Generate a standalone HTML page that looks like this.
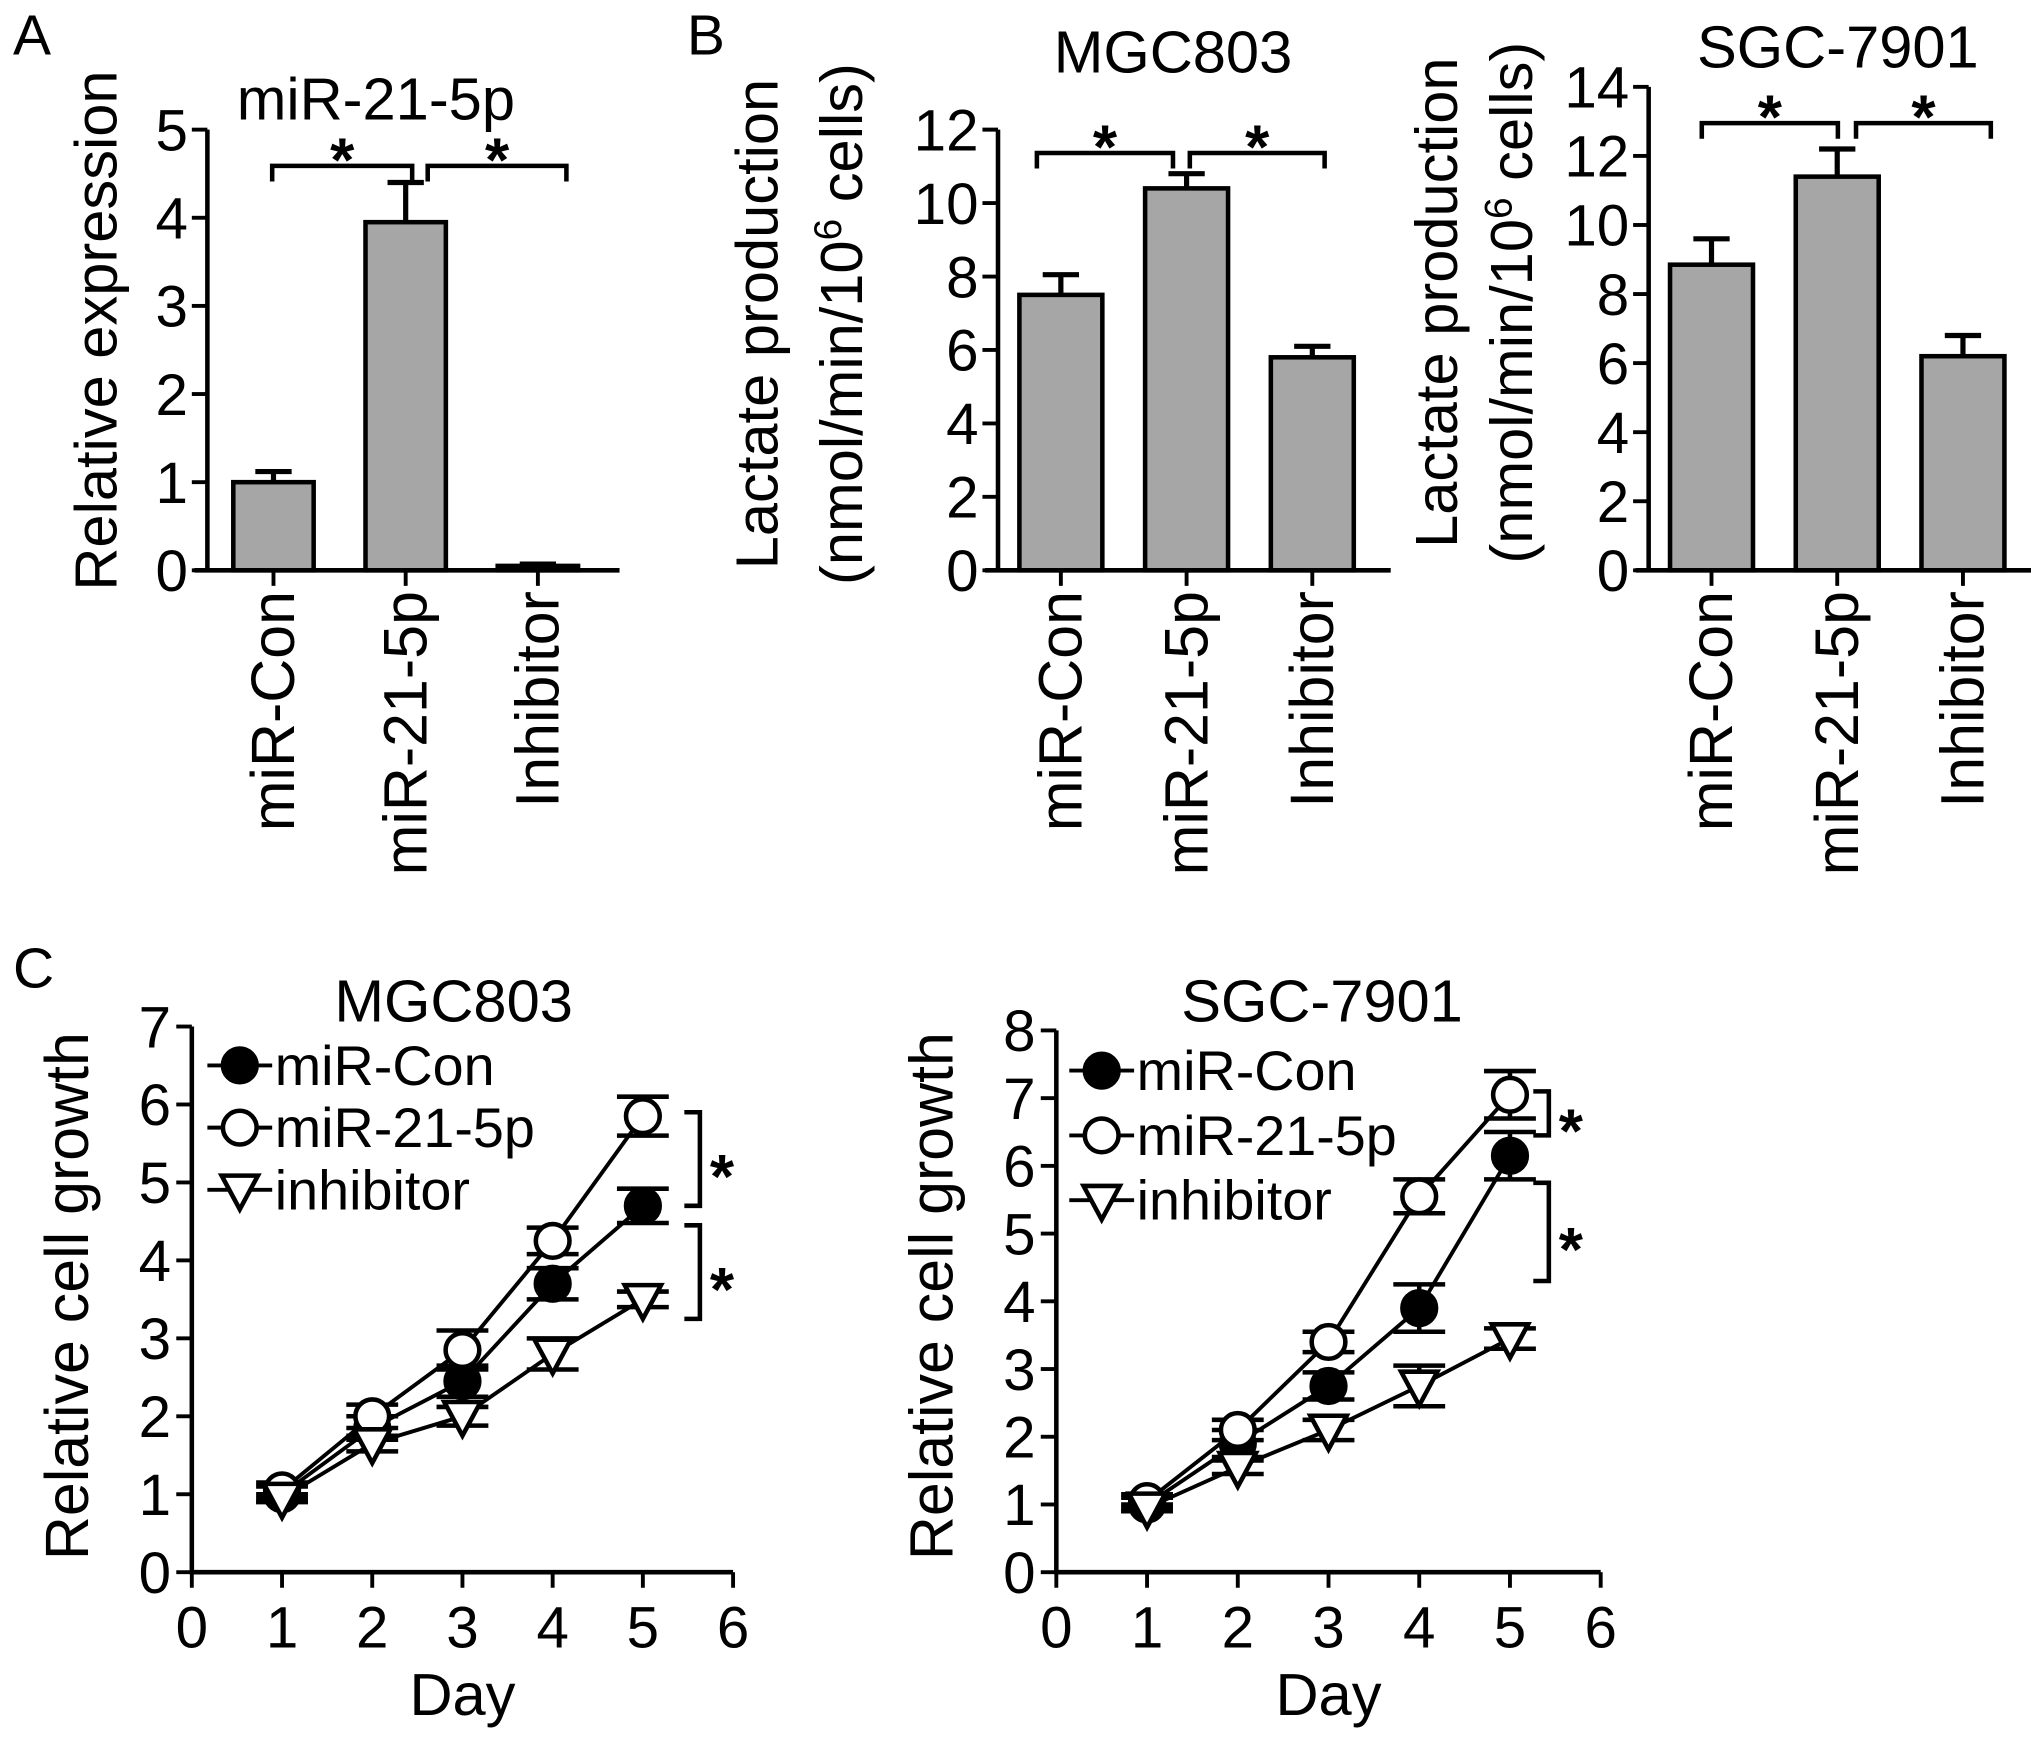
<!DOCTYPE html>
<html><head><meta charset="utf-8">
<style>
html,body{margin:0;padding:0;background:#fff;}
svg{display:block;}
text{font-family:"Liberation Sans",Arial,sans-serif;fill:#000;}
</style></head>
<body>
<svg id="fig" width="2031" height="1742" viewBox="0 0 1567 1344" xmlns="http://www.w3.org/2000/svg">
<text x="10" y="42" font-size="44">A</text>
<text x="530" y="42" font-size="44">B</text>
<text x="10" y="762" font-size="44">C</text>
</svg>
<script>
// ---- data ----
const barCategories = ["miR-Con","miR-21-5p","Inhibitor"];
const aValues = [1.0, 3.95, 0.05];
const aErrors = [0.12, 0.45, 0.02];
const bMgcValues = [7.5, 10.4, 5.8];
const bMgcErrors = [0.55, 0.4, 0.3];
const bSgcValues = [8.85, 11.4, 6.2];
const bSgcErrors = [0.75, 0.8, 0.6];
const aTicks = [0,1,2,3,4,5];
const bMgcTicks = [0,2,4,6,8,10,12];
const bSgcTicks = [0,2,4,6,8,10,12,14];

const days = [1,2,3,4,5];
const dayTicks = [0,1,2,3,4,5,6];
const seriesNames = ["miR-Con","miR-21-5p","inhibitor"];
const mgcCon = [1.0, 1.85, 2.45, 3.7, 4.7];
const mgcConErr = [0.1, 0.15, 0.2, 0.2, 0.22];
const mgcMir = [1.05, 2.0, 2.85, 4.25, 5.85];
const mgcMirErr = [0.1, 0.15, 0.25, 0.17, 0.25];
const mgcInh = [0.95, 1.65, 2.0, 2.8, 3.5];
const mgcInhErr = [0.05, 0.1, 0.12, 0.2, 0.1];
const mgcGrowthTicks = [0,1,2,3,4,5,6,7];
const sgcCon = [1.0, 1.9, 2.75, 3.9, 6.15];
const sgcConErr = [0.1, 0.2, 0.2, 0.35, 0.35];
const sgcMir = [1.05, 2.1, 3.4, 5.55, 7.05];
const sgcMirErr = [0.1, 0.15, 0.15, 0.25, 0.35];
const sgcInh = [0.95, 1.55, 2.1, 2.75, 3.45];
const sgcInhErr = [0.05, 0.1, 0.15, 0.3, 0.15];
const sgcGrowthTicks = [0,1,2,3,4,5,6,7,8];

const NS="http://www.w3.org/2000/svg";
const svg=document.getElementById('fig');
function el(tag,attrs,parent){const e=document.createElementNS(NS,tag);for(const k in attrs)e.setAttribute(k,attrs[k]);(parent||svg).appendChild(e);return e;}
function txt(s,attrs,parent){const t=el('text',attrs,parent);t.textContent=s;return t;}

function barChart(cfg){
  const g=el('g',{});
  
  
  const y=v=>cfg.y0-(v-0)/(cfg.ymax)*(cfg.y0-cfg.ytop);
  const xc=i=>cfg.xs+cfg.step*(i+0.5);
  const t=txt(cfg.title,{x:cfg.titleX,y:cfg.titleY,'font-size':46,'text-anchor':'middle'},g);
  
  
  cfg.ylabel.forEach((lab,k)=>{
    const yl=el('text',{transform:`translate(${cfg.ylabX[k]},${(cfg.y0+cfg.ytop)/2+ (cfg.ylabDy||0)}) rotate(-90)`,'font-size':cfg.ylabFs||46,'text-anchor':'middle'},g);
    yl.innerHTML=lab;
    
    
  });
  cfg.values.forEach((v,i)=>{
    const b=el('rect',{x:xc(i)-cfg.bw/2,y:y(v),width:cfg.bw,height:cfg.y0-y(v),fill:'#a6a6a6',stroke:'#000','stroke-width':3.5},g);
    
    
    const e=cfg.errors[i];
    const eb=el('path',{d:`M${xc(i)},${y(v)} V${y(v+e)} M${xc(i)-14},${y(v+e)} H${xc(i)+14}`,stroke:'#000','stroke-width':4,fill:'none'},g);
    
    
    const lab=txt(barCategories[i],{transform:`translate(${xc(i)+16},${cfg.y0+16}) rotate(-90)`,'font-size':47,'text-anchor':'end'},g);
    
    
    el('line',{x1:xc(i),x2:xc(i),y1:cfg.y0,y2:cfg.y0+12,stroke:'#000','stroke-width':3},g);
  });
  const ax=el('path',{d:`M${cfg.xs},${cfg.ytop} V${cfg.y0} M${cfg.xs-10},${cfg.y0} H${cfg.xs+cfg.step*3+12}`,stroke:'#000','stroke-width':3.5,fill:'none'},g);
  
  
  cfg.ticks.forEach(v=>{
    el('line',{x1:cfg.xs-12,x2:cfg.xs,y1:y(v),y2:y(v),stroke:'#000','stroke-width':3},g);
    const tl=txt(String(v),{x:cfg.xs-15,y:y(v)+16,'font-size':45,'text-anchor':'end'},g);
    
    
  });
  cfg.brackets.forEach(br=>{
    const p=el('path',{d:`M${br[0]},${br[2]+12} V${br[2]} H${br[1]} V${br[2]+12}`,stroke:'#000','stroke-width':3.5,fill:'none'},g);
    
    
    const s=txt('*',{x:(br[0]+br[1])/2,y:br[2]+12,'font-size':48,'font-weight':'bold','text-anchor':'middle'},g);
    
    
  });
}

barChart({name:'chart-a-mir21-expression',title:'miR-21-5p',titleX:290,titleY:92,ylabel:['Relative expression'],ylabX:[90],ylabDy:-15,
  xs:160,step:102,bw:62,y0:440,ytop:100,ymax:5,values:aValues,errors:aErrors,ticks:aTicks,
  brackets:[[210,318,128],[330,437,128]]});
barChart({name:'chart-b-mgc803-lactate',title:'MGC803',titleX:905,titleY:56,ylabel:['Lactate production','(nmol/min/10<tspan font-size="30" dy="-16">6</tspan><tspan dy="16"> cells)</tspan>'],ylabX:[600,665],ylabDy:-20,
  xs:770,step:97,bw:64,y0:440,ytop:100,ymax:12,values:bMgcValues,errors:bMgcErrors,ticks:bMgcTicks,
  brackets:[[800,905,118],[918,1022,118]]});
barChart({name:'chart-b-sgc7901-lactate',title:'SGC-7901',titleX:1418,titleY:52,ylabel:['Lactate production','(nmol/min/10<tspan font-size="30" dy="-16">6</tspan><tspan dy="16"> cells)</tspan>'],ylabX:[1124,1182],ylabDy:-20,
  xs:1272,step:97,bw:64,y0:440,ytop:67,ymax:14,values:bSgcValues,errors:bSgcErrors,ticks:bSgcTicks,
  brackets:[[1313,1418,95],[1432,1536,95]]});

function lineChart(cfg){
  const g=el('g',{});
  
  
  const x=d=>cfg.xs+d*cfg.xu;
  const y=v=>cfg.y0-v/cfg.ymax*(cfg.y0-cfg.ytop);
  const t=txt(cfg.title,{x:cfg.titleX,y:788,'font-size':46,'text-anchor':'middle'},g);
  
  
  const yl=txt('Relative cell growth',{transform:`translate(${cfg.xs-80},${1000}) rotate(-90)`,'font-size':47,'text-anchor':'middle'},g);
  
  
  const xl=txt('Day',{x:x(3),y:1323,'font-size':46,'text-anchor':'middle'},g);
  
  
  const ax=el('path',{d:`M${cfg.xs},${cfg.ytop} V${cfg.y0} H${x(6)}`,stroke:'#000','stroke-width':3.5,fill:'none'},g);
  
  
  cfg.yticks.forEach(v=>{
    el('line',{x1:cfg.xs-12,x2:cfg.xs,y1:y(v),y2:y(v),stroke:'#000','stroke-width':3},g);
    const tl=txt(String(v),{x:cfg.xs-16,y:y(v)+16,'font-size':45,'text-anchor':'end'},g);
    
    
  });
  dayTicks.forEach(d=>{
    el('line',{x1:x(d),x2:x(d),y1:cfg.y0,y2:cfg.y0+12,stroke:'#000','stroke-width':3},g);
    const tl=txt(String(d),{x:x(d),y:cfg.y0+58,'font-size':45,'text-anchor':'middle'},g);
    
    
  });
  const kinds=['filled','open','tri'];
  function marker(kind,cx,cy,parent){
    if(kind==='tri') return el('path',{d:`M${cx-14},${cy-11} H${cx+14} L${cx},${cy+15} Z`,fill:'#fff',stroke:'#000','stroke-width':3.5},parent);
    return el('circle',{cx:cx,cy:cy,r:13,fill:kind==='filled'?'#000':'#fff',stroke:'#000','stroke-width':3.5},parent);
  }
  cfg.series.forEach((s,k)=>{
    const sg=el('g',{},g);
    
    
    el('polyline',{points:days.map((d,i)=>x(d)+','+y(s.v[i])).join(' '),fill:'none',stroke:'#000','stroke-width':3},sg);
    days.forEach((d,i)=>{
      const hi=y(s.v[i]+s.e[i]),lo=y(s.v[i]-s.e[i]);
      const eb=el('path',{d:`M${x(d)},${hi} V${lo} M${x(d)-20},${hi} H${x(d)+20} M${x(d)-20},${lo} H${x(d)+20}`,stroke:'#000','stroke-width':3.5,fill:'none'},sg);
      
      
      const m=marker(kinds[k],x(d),y(s.v[i]),sg);
      
      
    });
    const lg=el('g',{},g);
    
    
    const ly=cfg.legY+k*cfg.legDy;
    el('line',{x1:cfg.legX-25,x2:cfg.legX+25,y1:ly,y2:ly,stroke:'#000','stroke-width':3},lg);
    marker(kinds[k],cfg.legX,ly,lg);
    txt(seriesNames[k],{x:cfg.legX+27,y:ly+15,'font-size':43},lg);
  });
  cfg.brackets.forEach(br=>{
    const bx=cfg.brX;
    const p=el('path',{d:`M${bx-12},${y(br[0])} H${bx} V${y(br[1])} H${bx-12}`,stroke:'#000','stroke-width':3.5,fill:'none'},g);
    
    
    const s=txt('*',{x:bx+17,y:(y(br[0])+y(br[1]))/2+30,'font-size':48,'font-weight':'bold','text-anchor':'middle'},g);
    
    
  });
}

lineChart({name:'chart-c-mgc803-growth',title:'MGC803',titleX:350,xs:148,xu:69.6,y0:1213,ytop:792,ymax:7,yticks:mgcGrowthTicks,
  series:[{v:mgcCon,e:mgcConErr},{v:mgcMir,e:mgcMirErr},{v:mgcInh,e:mgcInhErr}],
  legX:185,legY:822,legDy:48,brX:540,brackets:[[5.9,4.7],[4.45,3.25]]});
lineChart({name:'chart-c-sgc7901-growth',title:'SGC-7901',titleX:1020,xs:815,xu:70,y0:1213,ytop:795,ymax:8,yticks:sgcGrowthTicks,
  series:[{v:sgcCon,e:sgcConErr},{v:sgcMir,e:sgcMirErr},{v:sgcInh,e:sgcInhErr}],
  legX:850,legY:826,legDy:50,brX:1195,brackets:[[7.1,6.45],[5.75,4.3]]});
</script>
</body></html>
